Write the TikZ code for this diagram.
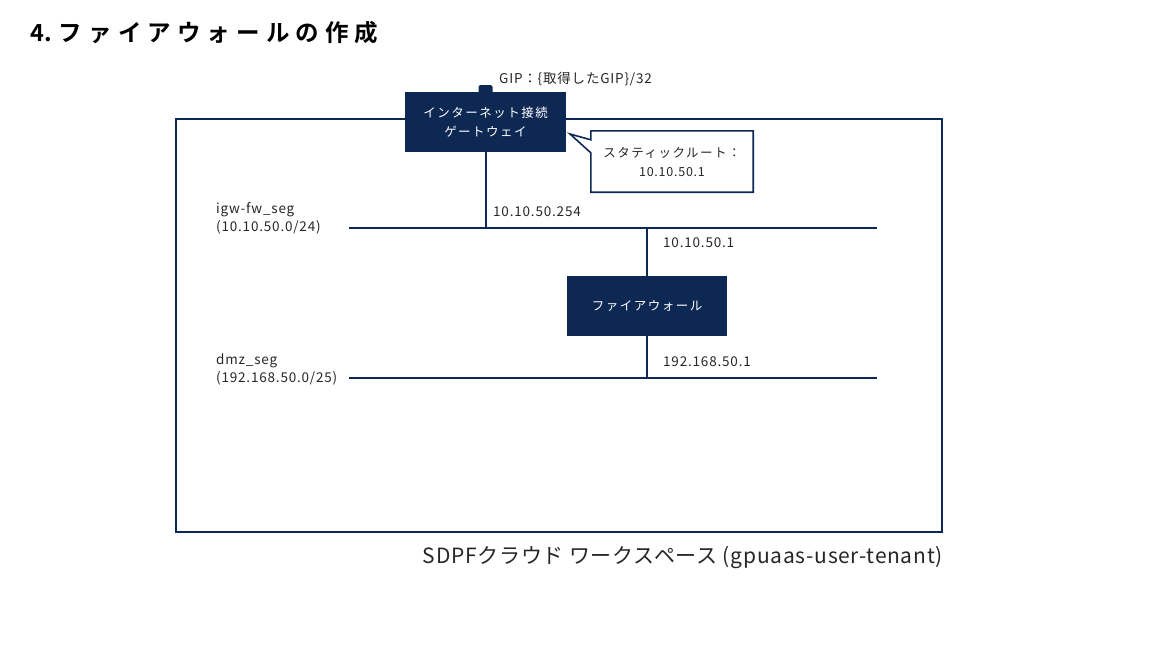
\documentclass[tikz,border=0pt]{standalone}
\usepackage{fontspec}
\usetikzlibrary{backgrounds}
\setmainfont{Noto Sans CJK JP}
\newfontfamily\jpsp[LetterSpace=12]{Noto Sans CJK JP}
\newfontfamily\lblfont[LetterSpace=6]{Noto Sans CJK JP}
\newfontfamily\wsfont[LetterSpace=3.5]{Noto Sans CJK JP}
\newfontfamily\jptitle[LetterSpace=26]{Noto Sans CJK JP Bold}
\newfontfamily\jptitlenum{Noto Sans CJK JP Bold}
\definecolor{navy}{RGB}{14,40,84}

\begin{document}
\begin{tikzpicture}[x=1pt, y=-1pt,
    seg/.style={navy, line width=2pt},
    darkbox/.style={fill=navy, text=white, minimum width=161pt, minimum height=60pt,
        inner sep=0pt, align=center, font=\jpsp\fontsize{12.5}{19}\selectfont},
    lbl/.style={anchor=west, inner sep=0pt, align=left, text=black!85,
        font=\lblfont\fontsize{13.5}{18}\selectfont}]
        \useasboundingbox (0,0) rectangle (1157,648);

        \node[anchor=west, inner sep=0pt, font=\fontsize{23.5}{26}\selectfont] (title) at (30,33) {\jptitlenum 4. \jptitle ファイアウォールの作成};

        \node[draw=navy, line width=2pt, minimum width=766pt, minimum height=413pt, inner sep=0pt] (ws) at (559,325.5) {};
        \node[anchor=east, inner sep=0pt, text=black!85, font=\wsfont\fontsize{21}{24}\selectfont] (wslabel) at (943,558) {SDPFクラウド ワークスペース (gpuaas-user-tenant)};

        \node[darkbox] (igw) at (485.5,122) {インターネット接続\\ゲートウェイ};
        \node[fill=navy, minimum width=14pt, minimum height=9pt, inner sep=0pt, rounded corners=1.5pt, anchor=north] (tab) at (485.5,85) {};
        \node[lbl] (gip) at (499,79) {GIP：\{取得したGIP\}/32};

        \node[minimum width=162pt, minimum height=61pt, inner sep=0pt, align=center, text=black!85, font=\jpsp\fontsize{12.5}{19}\selectfont] (route) at (672,161.5) {スタティックルート：\\{\lblfont 10.10.50.1}};
        \coordinate (tip) at (570,134);
        \begin{scope}[on background layer]
            \draw[navy, line width=1.6pt, fill=white] (route.north west) -- (route.north east) -- (route.south east) -- (route.south west) -- ([yshift=-22pt]route.north west) -- (tip) -- ([yshift=-9pt]route.north west) -- cycle;
        \end{scope}

        \coordinate (igwL) at (349,228);
        \coordinate (igwR) at (877,228);
        \coordinate (dmzL) at (349,378);
        \coordinate (dmzR) at (877,378);
        \draw[seg] (igwL) -- (igwR);
        \draw[seg] (dmzL) -- (dmzR);

        \node[darkbox, minimum width=160pt] (fw) at (647,306) {ファイアウォール};

        \draw[seg] (igw.south) -- (igw.south |- igwL);
        \draw[seg] (fw.north) -- (fw.north |- igwL);
        \draw[seg] (fw.south) -- (fw.south |- dmzL);

        \node[lbl] (igwseg) at (216,218) {igw-fw\_seg\\(10.10.50.0/24)};
        \node[lbl] (dmzseg) at (216,369) {dmz\_seg\\(192.168.50.0/25)};
        \node[lbl] (igwip) at (493,212) {10.10.50.254};
        \node[lbl] (fwip) at (663,243) {10.10.50.1};
        \node[lbl] (dmzip) at (663,362) {192.168.50.1};
\end{tikzpicture}
\end{document}
